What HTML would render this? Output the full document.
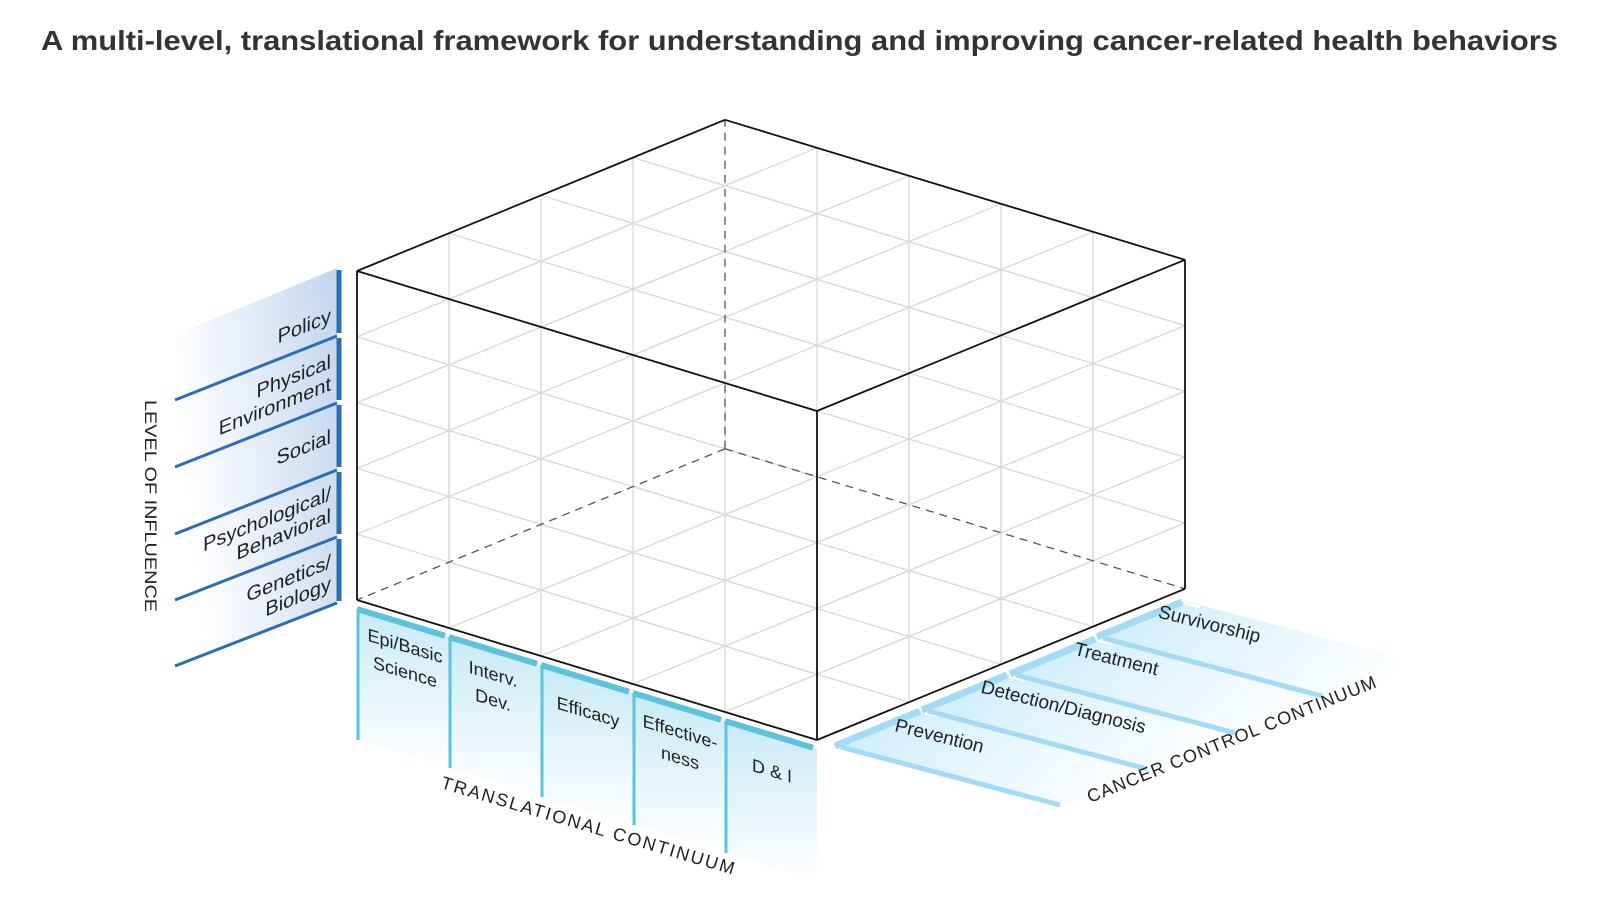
<!DOCTYPE html>
<html><head><meta charset="utf-8"><style>
html,body{margin:0;padding:0;background:#fff;}
svg{display:block;}
text{font-family:"Liberation Sans",Arial,sans-serif;}
</style></head><body>
<svg id="s" width="1600" height="911" viewBox="0 0 1600 911" xmlns="http://www.w3.org/2000/svg">
<defs>
<linearGradient id="gl" x1="1" y1="0" x2="0" y2="0.3"><stop offset="0" stop-color="#c3d6ee"/><stop offset="1" stop-color="#ffffff"/></linearGradient>
<linearGradient id="gt" x1="0" y1="0" x2="0" y2="1"><stop offset="0" stop-color="#c7eaf5"/><stop offset="1" stop-color="#ffffff"/></linearGradient>
<linearGradient id="gc" x1="0" y1="0" x2="1" y2="0.3"><stop offset="0" stop-color="#c9ecfb"/><stop offset="1" stop-color="#ffffff"/></linearGradient>
</defs>
<text x="41" y="50" font-size="28" font-weight="bold" fill="#333" textLength="1517" lengthAdjust="spacingAndGlyphs">A multi-level, translational framework for understanding and improving cancer-related health behaviors</text>

<polygon points="337,268 337,603 175,666 175,335" fill="url(#gl)"/>
<g stroke="#2d6db4" stroke-width="3">
<line x1="337" y1="336" x2="175" y2="400"/>
<line x1="337" y1="403" x2="175" y2="467"/>
<line x1="337" y1="470" x2="175" y2="534"/>
<line x1="337" y1="537" x2="175" y2="600"/>
<line x1="337" y1="603" x2="175" y2="666"/>
</g>
<g stroke="#2d6db4" stroke-width="5">
<line x1="339" y1="270" x2="339" y2="333"/>
<line x1="339" y1="338" x2="339" y2="400"/>
<line x1="339" y1="405" x2="339" y2="467"/>
<line x1="339" y1="472" x2="339" y2="534"/>
<line x1="339" y1="539" x2="339" y2="601"/>
</g>
<g font-size="20" fill="#222" text-anchor="end">
<text transform="translate(331,322) skewY(-22)">Policy</text>
<text transform="translate(331,368) skewY(-22)">Physical</text>
<text transform="translate(331,390) skewY(-22)">Environment</text>
<text transform="translate(331,443) skewY(-22)">Social</text>
<text transform="translate(331,500) skewY(-22)">Psychological/</text>
<text transform="translate(331,522) skewY(-22)">Behavioral</text>
<text transform="translate(331,568) skewY(-22)">Genetics/</text>
<text transform="translate(331,590) skewY(-22)">Biology</text>
</g>
<text transform="translate(145,400) rotate(90)" font-size="17" fill="#222" textLength="212" lengthAdjust="spacingAndGlyphs">LEVEL OF INFLUENCE</text>

<g id="tp"></g>
<g font-size="18" fill="#222" text-anchor="middle">
<text transform="translate(405,652) skewY(16.7)">Epi/Basic</text>
<text transform="translate(405,678) skewY(16.7)">Science</text>
<text transform="translate(493,680) skewY(16.7)">Interv.</text>
<text transform="translate(493,706) skewY(16.7)">Dev.</text>
<text transform="translate(588,718) skewY(16.7)">Efficacy</text>
<text transform="translate(680,738) skewY(16.7)">Effective-</text>
<text transform="translate(680,764) skewY(16.7)">ness</text>
<text transform="translate(772,777) skewY(16.7)">D &amp; I</text>
</g>
<text transform="translate(440,788) rotate(16.5)" font-size="18" fill="#222" textLength="305" lengthAdjust="spacing">TRANSLATIONAL CONTINUUM</text>

<g id="cp"></g>
<g font-size="19" fill="#222" text-anchor="middle">
<text transform="translate(938,742) rotate(14)">Prevention</text>
<text transform="translate(1062,713) rotate(14)">Detection/Diagnosis</text>
<text transform="translate(1115,665) rotate(14)">Treatment</text>
<text transform="translate(1208,630) rotate(14)">Survivorship</text>
</g>
<text transform="translate(1090,803) rotate(-22)" font-size="18" fill="#222" textLength="310" lengthAdjust="spacing">CANCER CONTROL CONTINUUM</text>

<g id="grid" stroke="#d8d8d8" stroke-width="1.3" fill="none"></g>
<g id="cube" fill="none"></g>
</svg>
<script>
(function(){
var NS="http://www.w3.org/2000/svg";
function L(g,x1,y1,x2,y2,attrs){var e=document.createElementNS(NS,"line");e.setAttribute("x1",x1);e.setAttribute("y1",y1);e.setAttribute("x2",x2);e.setAttribute("y2",y2);for(var k in (attrs||{}))e.setAttribute(k,attrs[k]);g.appendChild(e);return e;}
function P(g,pts,attrs){var e=document.createElementNS(NS,"polygon");e.setAttribute("points",pts.map(function(p){return p[0]+","+p[1]}).join(" "));for(var k in attrs)e.setAttribute(k,attrs[k]);g.appendChild(e);}
var H=65.8, c=[92,-37.8], a=[92,-37.8+65.8], O=[357,600];
function pt(t,cc,h){return [O[0]+t*a[0]+cc*c[0], O[1]+t*a[1]+cc*c[1]-h*H];}
function seg(g,p,q){L(g,p[0],p[1],q[0],q[1]);}
var g=document.getElementById("grid");
[0,5].forEach(function(t){
 for(var k=1;k<4;k++)seg(g,pt(t,k,0),pt(t,k,5));
 for(var h=1;h<5;h++)seg(g,pt(t,0,h),pt(t,4,h));
});
[0,4].forEach(function(cc){
 for(var k=1;k<5;k++)seg(g,pt(k,cc,0),pt(k,cc,5));
 for(var h=1;h<5;h++)seg(g,pt(0,cc,h),pt(5,cc,h));
});
[0,5].forEach(function(h){
 for(var k=1;k<5;k++)seg(g,pt(k,0,h),pt(k,4,h));
 for(var k=1;k<4;k++)seg(g,pt(0,k,h),pt(5,k,h));
});
var cb=document.getElementById("cube");
var dash={stroke:"#555","stroke-width":1.3,"stroke-dasharray":"8,6"};
var B=pt(0,4,0),Tt=pt(0,4,5);
L(cb,B[0],B[1],Tt[0],Tt[1],dash);
var Lb=pt(0,0,0),Rb=pt(5,4,0);
L(cb,B[0],B[1],Lb[0],Lb[1],dash);L(cb,B[0],B[1],Rb[0],Rb[1],dash);
var s={stroke:"#111","stroke-width":1.8};
var Lt=pt(0,0,5),Ft=pt(5,0,5),Rt=pt(5,4,5),Fb=pt(5,0,0);
[[Lt,Tt],[Tt,Rt],[Rt,Ft],[Ft,Lt],[Lt,Lb],[Ft,Fb],[Rt,Rb],[Lb,Fb],[Fb,Rb]].forEach(function(e){L(cb,e[0][0],e[0][1],e[1][0],e[1][1],s);});
var tp=document.getElementById("tp");
var bots=[740,768,797,825,853];
for(var i=0;i<5;i++){
 var x0=Lb[0]+i*a[0], y0=Lb[1]+i*a[1]+9, x1=x0+a[0], y1=y0+a[1];
 var b=bots[i];
 P(tp,[[x0,y0],[x1,y1],[x1,b+a[1]],[x0,b]],{fill:"url(#gt)"});
 L(tp,x0,y0,x1-4,y1-1.2,{stroke:"#5bc4dc","stroke-width":6});
 L(tp,x0+1,y0,x0+1,b,{stroke:"#5bc4dc","stroke-width":3});
}
var cp=document.getElementById("cp");
var S=[[835,746],[922,710],[1010,674],[1097,637]];
var d=[225,59];
for(var i=0;i<4;i++){
 var s0=S[i], s1=[s0[0]+87,s0[1]-36];
 P(cp,[s0,s1,[s1[0]+d[0]+40,s1[1]+d[1]+10],[s0[0]+d[0],s0[1]+d[1]]],{fill:"url(#gc)"});
}
for(var i=0;i<4;i++){
 var s0=S[i], s1=[s0[0]+85,s0[1]-35];
 L(cp,s0[0],s0[1],s1[0],s1[1],{stroke:"#a3dbf6","stroke-width":7});
 L(cp,s0[0]+6,s0[1]+1,s0[0]+d[0],s0[1]+d[1],{stroke:"#a3dbf6","stroke-width":5});
 L(cp,s1[0]+2,s1[1]+1,s1[0]+18,s1[1]+5,{stroke:"#fff","stroke-width":3});
}
})();
</script>
</body></html>
